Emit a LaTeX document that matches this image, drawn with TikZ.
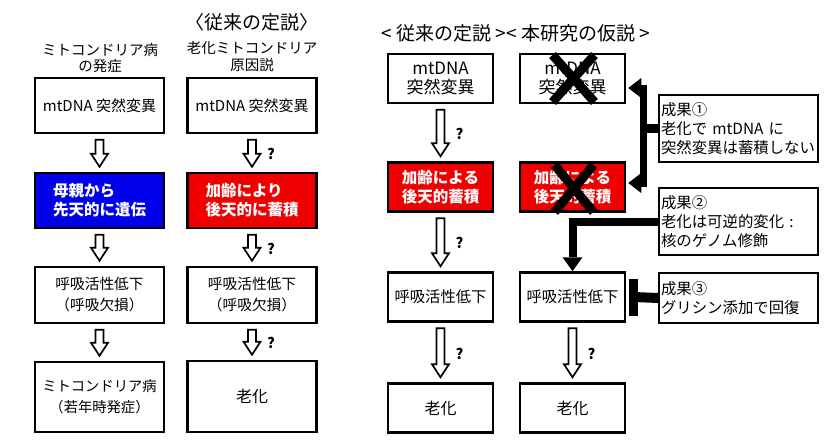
\documentclass[tikz,border=0pt]{standalone}
\usepackage{fontspec}
\setmainfont{Noto Sans CJK JP}
\usetikzlibrary{calc,arrows.meta}
\definecolor{boxblue}{RGB}{0,0,235}
\definecolor{boxred}{RGB}{240,0,0}
\newcommand\fs[2]{\fontsize{#1pt}{#2pt}\selectfont}
\newcommand\hollowarrow[2]{%
  \draw[hollow] let \p1=($(#1.south)+(0,5.5)$), \p2=($(#2.north)-(0,5)$) in
    (\x1-4pt,\y1) -- (\x1+4pt,\y1) -- (\x1+4pt,\y2+13pt) -- (\x1+8.5pt,\y2+13pt)
    -- (\x1,\y2) -- (\x1-8.5pt,\y2+13pt) -- (\x1-4pt,\y2+13pt) -- cycle;}
\newcommand\hollowarrowq[2]{%
  \hollowarrow{#1}{#2}%
  \node[qmark] at ($($(#1.south)!0.5!(#2.north)$)+(19,1)$) {?};}
\begin{document}
\begin{tikzpicture}[x=1pt,y=-1pt,
  box/.style={draw=black, line width=2.5pt, inner sep=0pt, align=center, fill=white},
  lbox/.style={box, minimum width=129pt},
  rbox/.style={box, minimum width=105pt, minimum height=49pt},
  resbox/.style={box, line width=2pt, inner xsep=2pt, text width=155pt, align=left, font=\fs{15.4}{19}},
  bluebox/.style={fill=boxblue, text=white, font=\bfseries\fs{15.5}{19}},
  redbox/.style={fill=boxred, text=white, font=\bfseries\fs{15.5}{19}},
  hollow/.style={draw=black, line width=1.7pt, fill=white, line join=miter},
  qmark/.style={font=\bfseries\fs{14.5}{14.5}},
  xmark/.style={line width=9pt, draw=black},
  barline/.style={line width=7pt, draw=black, line join=miter},
  bigtip/.style={-{Triangle[width=20pt,length=14pt,line width=0pt]}}
]
\useasboundingbox (0,0) rectangle (826,444);

% ---------- titles ----------
\node[font=\fs{14.5}{16.5}, align=center] (t1) at (100,58) {ミトコンドリア病\\の発症};
\node[font=\fs{19}{19}] (t2) at (252,22) {〈従来の定説〉};
\node[font=\fs{14.5}{17}, align=center] (t2b) at (252,56.5) {老化ミトコンドリア\\原因説};
\node[font=\fs{19}{19}] (t3) at (516,33) {< 従来の定説 >< 本研究の仮説 >};

% ---------- column 1 ----------
\node[lbox, minimum height=55pt, font=\fs{15}{20}] (a1) at (99.5,105.5) {mtDNA 突然変異};
\node[lbox, bluebox, minimum height=55pt, align=left] (a2) at (99.5,200.5) {母親から\\先天的に遺伝};
\node[lbox, minimum height=56pt, font=\fs{14.7}{21}] (a3) at (99.5,295) {呼吸活性低下\\（呼吸欠損）};
\node[lbox, minimum height=70pt, font=\fs{14.3}{21}] (a4) at (99.5,397) {ミトコンドリア病\\（若年時発症）};

% ---------- column 2 ----------
\node[lbox, minimum height=55pt, font=\fs{15}{20}] (b1) at (252,105.5) {mtDNA 突然変異};
\node[lbox, redbox, minimum height=55pt, align=left] (b2) at (252,200.5) {加齢により\\後天的に蓄積};
\node[lbox, minimum height=56pt, font=\fs{14.7}{21}] (b3) at (252,295) {呼吸活性低下\\（呼吸欠損）};
\node[lbox, minimum height=71pt, font=\fs{16}{20}] (b4) at (252,396.5) {老化};

% ---------- right column A ----------
\node[rbox, font=\fs{17}{19}] (c1) at (440.5,78.5) {mtDNA\\突然変異};
\node[rbox, redbox] (c2) at (440.5,187) {加齢による\\後天的蓄積};
\node[rbox, font=\fs{15.3}{19}] (c3) at (440.5,297) {呼吸活性低下};
\node[rbox, font=\fs{16}{19}] (c4) at (440.5,408) {老化};

% ---------- right column B ----------
\node[rbox, font=\fs{17}{19}] (d1) at (572.5,78.5) {mtDNA\\突然変異};
\node[rbox, redbox] (d2) at (572.5,187) {加齢による\\後天的蓄積};
\node[rbox, font=\fs{15.3}{19}] (d3) at (572.5,297) {呼吸活性低下};
\node[rbox, font=\fs{16}{19}] (d4) at (572.5,408) {老化};

% ---------- result boxes ----------
\node[resbox, minimum height=67pt] (r1) at (738.5,128.5) {成果①\\老化で mtDNA に\\突然変異は蓄積しない};
\node[resbox, minimum height=67pt] (r2) at (738.5,221.5) {成果②\\老化は可逆的変化 :\\核のゲノム修飾};
\node[resbox, minimum height=50pt] (r3) at (738.5,298) {成果③\\グリシン添加で回復};

% ---------- hollow arrows ----------
\hollowarrow{a1}{a2}
\hollowarrow{a2}{a3}
\hollowarrow{a3}{a4}
\hollowarrowq{b1}{b2}
\hollowarrowq{b2}{b3}
\hollowarrowq{b3}{b4}
\hollowarrowq{c1}{c2}
\hollowarrowq{c2}{c3}
\hollowarrowq{c3}{c4}
\hollowarrowq{d3}{d4}

% ---------- crosses ----------
\draw[xmark] ($(d1.center)+(-20,-23.5)$) -- ($(d1.center)+(22,23.5)$);
\draw[xmark] ($(d1.center)+(22,-23.5)$) -- ($(d1.center)+(-20,23.5)$);
\draw[xmark] ($(d2.center)+(-18,-22)$) -- ($(d2.center)+(21,25)$);
\draw[xmark] ($(d2.center)+(21,-22)$) -- ($(d2.center)+(-18,25)$);

% ---------- result 1 bracket ----------
\coordinate (brA) at ($(d1.east)+(2,9.5)$);
\coordinate (brB) at ($(d2.east)+(2,-4)$);
\coordinate (brV) at ($(brA)+(15,0)$);
\draw[barline, {Triangle[width=20pt,length=13pt,line width=0pt]}-{Triangle[width=20pt,length=13pt,line width=0pt]}]
  (brA) -- (brV) |- (brB);
\draw[line width=9pt] (brV |- r1.west) -- (r1.west);

% ---------- result 2 arrow ----------
\draw[line width=8pt, line join=miter, bigtip] (r2.west) -| (d3.north);

% ---------- result 3 inhibition ----------
\coordinate (tb) at ($(d3.east)+(7.5,0)$);
\draw[line width=10pt] (r3.west) -- (tb);
\draw[line width=9pt] ($(tb)+(0,-18.5)$) -- ($(tb)+(0,18.5)$);
\end{tikzpicture}
\end{document}
